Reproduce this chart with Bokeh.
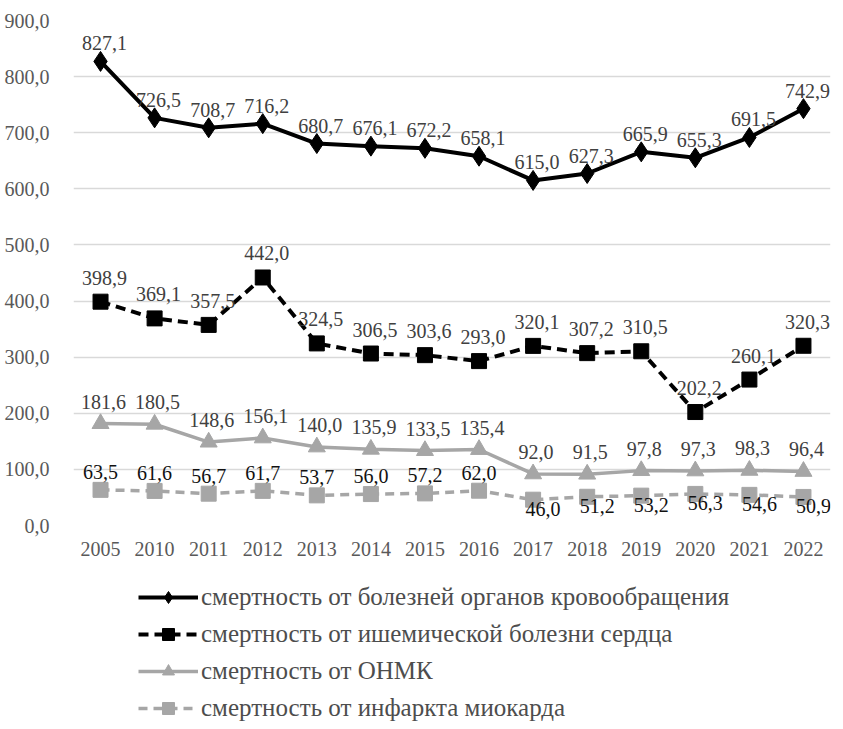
from bokeh.plotting import figure
from bokeh.layouts import column
from bokeh.models import (FactorRange, Range1d, ColumnDataSource, Legend, LegendItem,
                          FixedTicker, CustomJSTickFormatter)
from bokeh.core.properties import value
from bokeh.embed import file_html
from bokeh.resources import INLINE

# Years on the category axis
years = ["2005", "2010", "2011", "2012", "2013", "2014", "2015",
         "2016", "2017", "2018", "2019", "2020", "2021", "2022"]

# Mortality rates per 100 000 population
circulatory = [827.1, 726.5, 708.7, 716.2, 680.7, 676.1, 672.2,
               658.1, 615.0, 627.3, 665.9, 655.3, 691.5, 742.9]
ischemic = [398.9, 369.1, 357.5, 442.0, 324.5, 306.5, 303.6,
            293.0, 320.1, 307.2, 310.5, 202.2, 260.1, 320.3]
stroke = [181.6, 180.5, 148.6, 156.1, 140.0, 135.9, 133.5,
          135.4, 92.0, 91.5, 97.8, 97.3, 98.3, 96.4]
infarction = [63.5, 61.6, 56.7, 61.7, 53.7, 56.0, 57.2,
              62.0, 46.0, 51.2, 53.2, 56.3, 54.6, 50.9]

series_names = [
    "смертность от болезней органов кровообращения",
    "смертность от ишемической болезни сердца",
    "смертность от ОНМК",
    "смертность от инфаркта миокарда",
]

# Label side for the myocardial infarction series
infarction_label_side = ["above"] * 8 + ["below"] * 6

y_ticks = [0, 100, 200, 300, 400, 500, 600, 700, 800, 900]

FONT = "Liberation Serif"
GRAY = "#a6a6a6"

# Style of each series: line colour, dash, width, marker, marker size
styles = [
    dict(color="black", dash="solid", width=4, marker="diamond", size=20),
    dict(color="black", dash="10 6", width=4, marker="square", size=15),
    dict(color=GRAY, dash="solid", width=3.5, marker="triangle", size=17),
    dict(color=GRAY, dash="9 6", width=3.5, marker="square", size=15),
]

p = figure(x_range=FactorRange(factors=years, range_padding=0),
           y_range=Range1d(0, 900),
           frame_width=757, frame_height=505,
           min_border_left=73, min_border_right=13, min_border_top=20,
           min_border_bottom=40,
           output_backend="svg", toolbar_location=None)
p.outline_line_color = None
p.background_fill_color = "white"
p.border_fill_color = "white"

p.xgrid.grid_line_color = None
p.ygrid.grid_line_color = "#d9d9d9"
p.ygrid.grid_line_width = 1.3

p.yaxis.ticker = FixedTicker(ticks=y_ticks)
p.yaxis.formatter = CustomJSTickFormatter(code="return tick.toFixed(1).replace('.', ',');")
for ax in (p.xaxis[0], p.yaxis[0]):
    ax.axis_line_color = None
    ax.major_tick_line_color = None
    ax.minor_tick_line_color = None
    ax.major_label_text_font = FONT
    ax.major_label_text_font_size = "20px"
    ax.major_label_text_color = "#595959"
p.yaxis.major_label_standoff = 18
p.xaxis.major_label_standoff = 10


def fmt(vals):
    return [f"{v:.1f}".replace(".", ",") for v in vals]


def draw_series(fig, source, st, scale=1.0):
    ln = fig.line("x", "y", source=source, line_color=st["color"],
                  line_width=st["width"], line_dash=st["dash"])
    mk = fig.scatter("x", "y", source=source, marker=st["marker"], size=st["size"] * scale,
                     fill_color=st["color"], line_color=st["color"])
    return ln, mk


# Value labels: (x offset, y offset) in pixels
dy4 = [-18 if s == "above" else 9 for s in infarction_label_side]
dx4 = [0 if s == "above" else 10 for s in infarction_label_side]
label_specs = [
    (circulatory, 4, -18, "#404040", {}),
    (ischemic, 4, -24, "#404040", {}),
    (stroke, 3, -22, "#404040", {}),
    (infarction, "dx", "dy", "#111111", dict(dx=dx4, dy=dy4)),
]

for (vals, xo, yo, tc, extra), st in zip(label_specs, styles):
    src = ColumnDataSource(dict(x=years, y=vals, t=fmt(vals), **extra))
    draw_series(p, src, st)
    p.text("x", "y", text="t", source=src, text_font=value(FONT), text_font_size="20px",
           text_color=tc, text_align="center", text_baseline="middle",
           x_offset=xo, y_offset=yo)

# Legend panel below the chart; its sample glyphs sit outside the visible range
leg = figure(width=843, height=164, x_range=Range1d(0, 1), y_range=Range1d(0, 1),
             min_border=0, output_backend="svg", toolbar_location=None)
leg.axis.visible = False
leg.grid.visible = False
leg.outline_line_color = None

items = []
for name, st in zip(series_names, styles):
    hidden = ColumnDataSource(dict(x=[5, 6], y=[5, 6]))
    ln, mk = draw_series(leg, hidden, st, scale=0.85)
    items.append(LegendItem(label=name, renderers=[ln, mk]))

legend = Legend(items=items, location=(65, 6), orientation="vertical",
                label_text_font=FONT, label_text_font_size="25px",
                label_text_color="#4d4d4d",
                glyph_width=60, glyph_height=30, label_height=30,
                label_standoff=3, spacing=7, padding=0, margin=0,
                border_line_color=None, background_fill_alpha=0)
leg.add_layout(legend, "center")

layout = column(p, leg, spacing=0)
open("out.html", "w").write(file_html(layout, INLINE))
